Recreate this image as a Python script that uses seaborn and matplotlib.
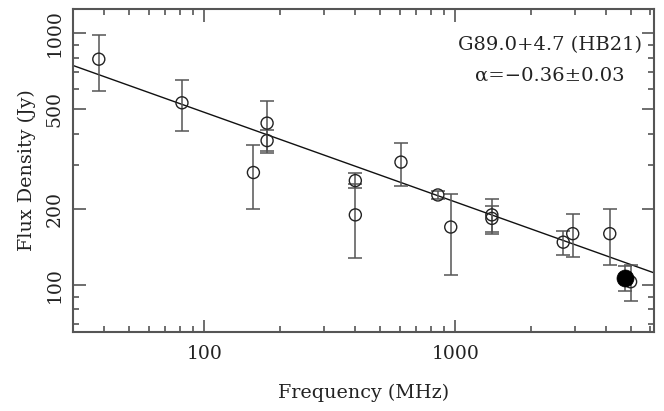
import numpy as np
import pandas as pd
import matplotlib
matplotlib.use("Agg")
import matplotlib.pyplot as plt
import seaborn as sns
from matplotlib.ticker import FixedLocator, NullFormatter, FixedFormatter

# ---- data ----
freq_mhz = [38, 81.5, 157, 178, 178, 400, 400, 608, 853, 960, 1400, 1400, 2695, 2940, 4130, 5000]
flux_jy = [790, 530, 280, 440, 375, 260, 190, 308, 228, 170, 190, 184, 148, 160, 160, 103]
flux_err = [200, 120, 80, 100, 40, 18, 62, 60, 8, 60, 30, 22, 16, 31, 40, 17]

filled_freq = [4750]
filled_flux = [107]
filled_err = [12]

fit_s1ghz = 214.0
fit_alpha = -0.356

x_major = [100, 1000]
x_labels = ["100", "1000"]
x_minor = [40, 50, 60, 70, 80, 90, 200, 300, 400, 500, 600, 700, 800, 900, 2000, 3000, 4000, 5000, 6000]
y_major = [100, 200, 500, 1000]
y_labels = ["100", "200", "500", "1000"]
y_minor = [70, 80, 90, 300, 400, 600, 700, 800, 900]

xlim = (30, 6200)
ylim = (65, 1250)

title_text = "G89.0+4.7 (HB21)"
alpha_text = "α=−0.36±0.03"

sns.set_style("ticks")
plt.rcParams["font.family"] = ["DejaVu Serif", "DejaVu Sans"]
plt.rcParams["mathtext.fontset"] = "dejavuserif"

fig = plt.figure(figsize=(6.64, 4.11), dpi=100)
ax = fig.add_axes([0.110, 0.192, 0.875, 0.786])

df = pd.DataFrame({"freq": freq_mhz, "flux": flux_jy, "err": flux_err})
dff = pd.DataFrame({"freq": filled_freq, "flux": filled_flux, "err": filled_err})

axis_col = "#555555"

ax.set_xscale("log")
ax.set_yscale("log")

# fit line
xf = np.array(xlim, dtype=float)
line_df = pd.DataFrame({"freq": xf, "flux": fit_s1ghz * (xf / 1000.0) ** fit_alpha})
sns.lineplot(data=line_df, x="freq", y="flux", ax=ax, color="#111111", linewidth=1.0, zorder=2)

# error bars
ax.errorbar(df["freq"], df["flux"], yerr=df["err"], fmt="none", ecolor=axis_col,
            elinewidth=1.1, capsize=5, capthick=1.1, zorder=3)
ax.errorbar(dff["freq"], dff["flux"], yerr=dff["err"], fmt="none", ecolor=axis_col,
            elinewidth=1.1, capsize=5, capthick=1.1, zorder=3)

# markers
sns.scatterplot(data=df, x="freq", y="flux", ax=ax, marker="o", s=75,
                facecolor="none", edgecolor="#222222", linewidth=1.0, zorder=4)
sns.scatterplot(data=dff, x="freq", y="flux", ax=ax, marker="o", s=150,
                color="black", edgecolor="black", linewidth=0.5, zorder=5)

ax.set_xlim(*xlim)
ax.set_ylim(*ylim)

ax.xaxis.set_major_locator(FixedLocator(x_major))
ax.xaxis.set_major_formatter(FixedFormatter(x_labels))
ax.xaxis.set_minor_locator(FixedLocator(x_minor))
ax.xaxis.set_minor_formatter(NullFormatter())
ax.yaxis.set_major_locator(FixedLocator(y_major))
ax.yaxis.set_major_formatter(FixedFormatter(y_labels))
ax.yaxis.set_minor_locator(FixedLocator(y_minor))
ax.yaxis.set_minor_formatter(NullFormatter())

ax.tick_params(which="both", direction="in", top=True, right=True, color=axis_col,
               width=1.2, labelsize=13.5, labelcolor="#222222")
ax.tick_params(which="major", length=9)
ax.tick_params(axis="x", which="major", pad=9)
ax.tick_params(axis="y", which="major", pad=7)
ax.tick_params(which="minor", length=4.5)
for lab in ax.get_yticklabels():
    lab.set_rotation(90)
    lab.set_va("center")

for sp in ax.spines.values():
    sp.set_color(axis_col)
    sp.set_linewidth(1.5)

ax.set_xlabel("Frequency (MHz)", fontsize=13.8, color="#222222", labelpad=15)
ax.set_ylabel("Flux Density (Jy)", fontsize=13.8, color="#222222", labelpad=7)

ax.text(0.821, 0.887, title_text, transform=ax.transAxes, ha="center", va="center",
        fontsize=14, color="#222222")
ax.text(0.821, 0.794, alpha_text, transform=ax.transAxes, ha="center", va="center",
        fontsize=14, color="#222222")

fig.savefig("out.png", dpi=100)
